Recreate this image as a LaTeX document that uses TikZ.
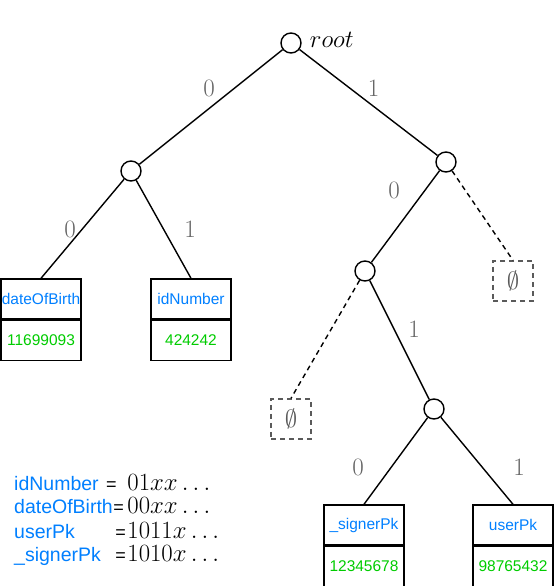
\documentclass[tikz,border=0pt]{standalone}
\usepackage{fontspec}
\setsansfont{Liberation Sans}
\usepackage{amssymb}
\usepackage{amsmath}
\usetikzlibrary{positioning}

\begin{document}
\begin{tikzpicture}[x=40bp,y=40bp,
	vertex/.style={circle,draw,fill=white,minimum size=20bp,inner sep=0pt,line width=1.4bp},
	edge/.style={line width=1.4bp},
	nulledge/.style={line width=1.4bp,dash pattern=on 5bp off 4bp},
	keycell/.style={draw,line width=1.4bp,minimum width=80bp,minimum height=40bp,inner sep=0pt,text=keyblue,font=\sffamily\fontsize{15.5bp}{18bp}\selectfont},
	valcell/.style={keycell,text=valgreen},
	nullcell/.style={draw=nullgray,line width=1.4bp,dash pattern=on 5bp off 4bp,minimum size=40bp,inner sep=0pt,text=nullgray,font=\fontsize{27bp}{30bp}\selectfont},
	bit/.style={text=labgray,inner sep=0pt,font=\fontsize{25bp}{30bp}\selectfont},
	legkey/.style={anchor=base west,inner sep=0pt,text=keyblue,font=\sffamily\fontsize{19.5bp}{23bp}\selectfont},
	legeq/.style={anchor=base west,inner sep=0pt,font=\sffamily\fontsize{18bp}{23bp}\selectfont},
	legval/.style={anchor=base west,inner sep=0pt,font=\fontsize{23bp}{28bp}\selectfont}]
	\definecolor{keyblue}{RGB}{0,127,255}
	\definecolor{valgreen}{RGB}{0,204,0}
	\definecolor{labgray}{RGB}{102,102,102}
	\definecolor{nullgray}{RGB}{90,90,90}
	
	\useasboundingbox (0,0) rectangle (13.85,14.65);
	
	% trie nodes
	\node[vertex] (root) at (7.275,13.575) [label={[inner sep=0pt,label distance=8bp,yshift=3bp,font=\fontsize{24bp}{28bp}\selectfont]right:$root$}] {};
	\node[vertex] (n0) at (3.275,10.375) {};
	\node[vertex] (n1) at (11.15,10.6) {};
	\node[vertex] (n10) at (9.125,7.875) {};
	\node[vertex] (n101) at (10.85,4.425) {};
	
	% leaves
	\node[keycell] (dob) at (1.025,7.175) {dateOfBirth};
	\node[valcell, below=0pt of dob] (dobval) {11699093};
	\node[keycell] (idn) at (4.775,7.175) {idNumber};
	\node[valcell, below=0pt of idn] (idnval) {424242};
	\node[keycell] (signer) at (9.1,1.525) {\_signerPk};
	\node[valcell, below=0pt of signer] (signerval) {12345678};
	\node[keycell] (user) at (12.825,1.525) {userPk};
	\node[valcell, below=0pt of user] (userval) {98765432};
	\node[nullcell] (null11) at (12.825,7.625) {$\emptyset$};
	\node[nullcell] (null100) at (7.275,4.175) {$\emptyset$};
	
	% connectors
	\draw[edge] (root) -- (n0);
	\draw[edge] (root) -- (n1);
	\draw[edge] (n0) -- (dob.north);
	\draw[edge] (n0) -- (idn.north);
	\draw[edge] (n1) -- (n10);
	\draw[nulledge] (n1) -- (null11.north);
	\draw[nulledge] (n10) -- (null100.north);
	\draw[edge] (n10) -- (n101);
	\draw[edge] (n101) -- (signer.north);
	\draw[edge] (n101) -- (user.north);
	
	% bits
	\node[bit] (b0) at (5.225,12.44) {0};
	\node[bit] (b1) at (9.34,12.44) {1};
	\node[bit] (b00) at (1.75,8.925) {0};
	\node[bit] (b01) at (4.75,8.925) {1};
	\node[bit] (b10) at (9.85,9.9) {0};
	\node[bit] (b101) at (10.35,6.425) {1};
	\node[bit] (b1010) at (8.95,2.975) {0};
	\node[bit] (b1011) at (12.975,2.975) {1};
	
	% legend
	\node[legkey] (kid) at (0.35,2.375) {idNumber};
	\node[legeq] (eid) at (2.65,2.375) {=};
	\node[legval] (vid) at (3.18,2.375) {$01xx\ldots$};
	\node[legkey] (kdob) at (0.35,1.8) {dateOfBirth};
	\node[legeq] (edob) at (2.83,1.8) {=};
	\node[legval] (vdob) at (3.18,1.8) {$00xx\ldots$};
	\node[legkey] (kuser) at (0.35,1.2) {userPk};
	\node[legeq] (euser) at (2.88,1.2) {=};
	\node[legval] (vuser) at (3.18,1.2) {$1011x\ldots$};
	\node[legkey] (ksigner) at (0.35,0.6) {\_signerPk};
	\node[legeq] (esigner) at (2.88,0.6) {=};
	\node[legval] (vsigner) at (3.18,0.6) {$1010x\ldots$};
	
\end{tikzpicture}
\end{document}
